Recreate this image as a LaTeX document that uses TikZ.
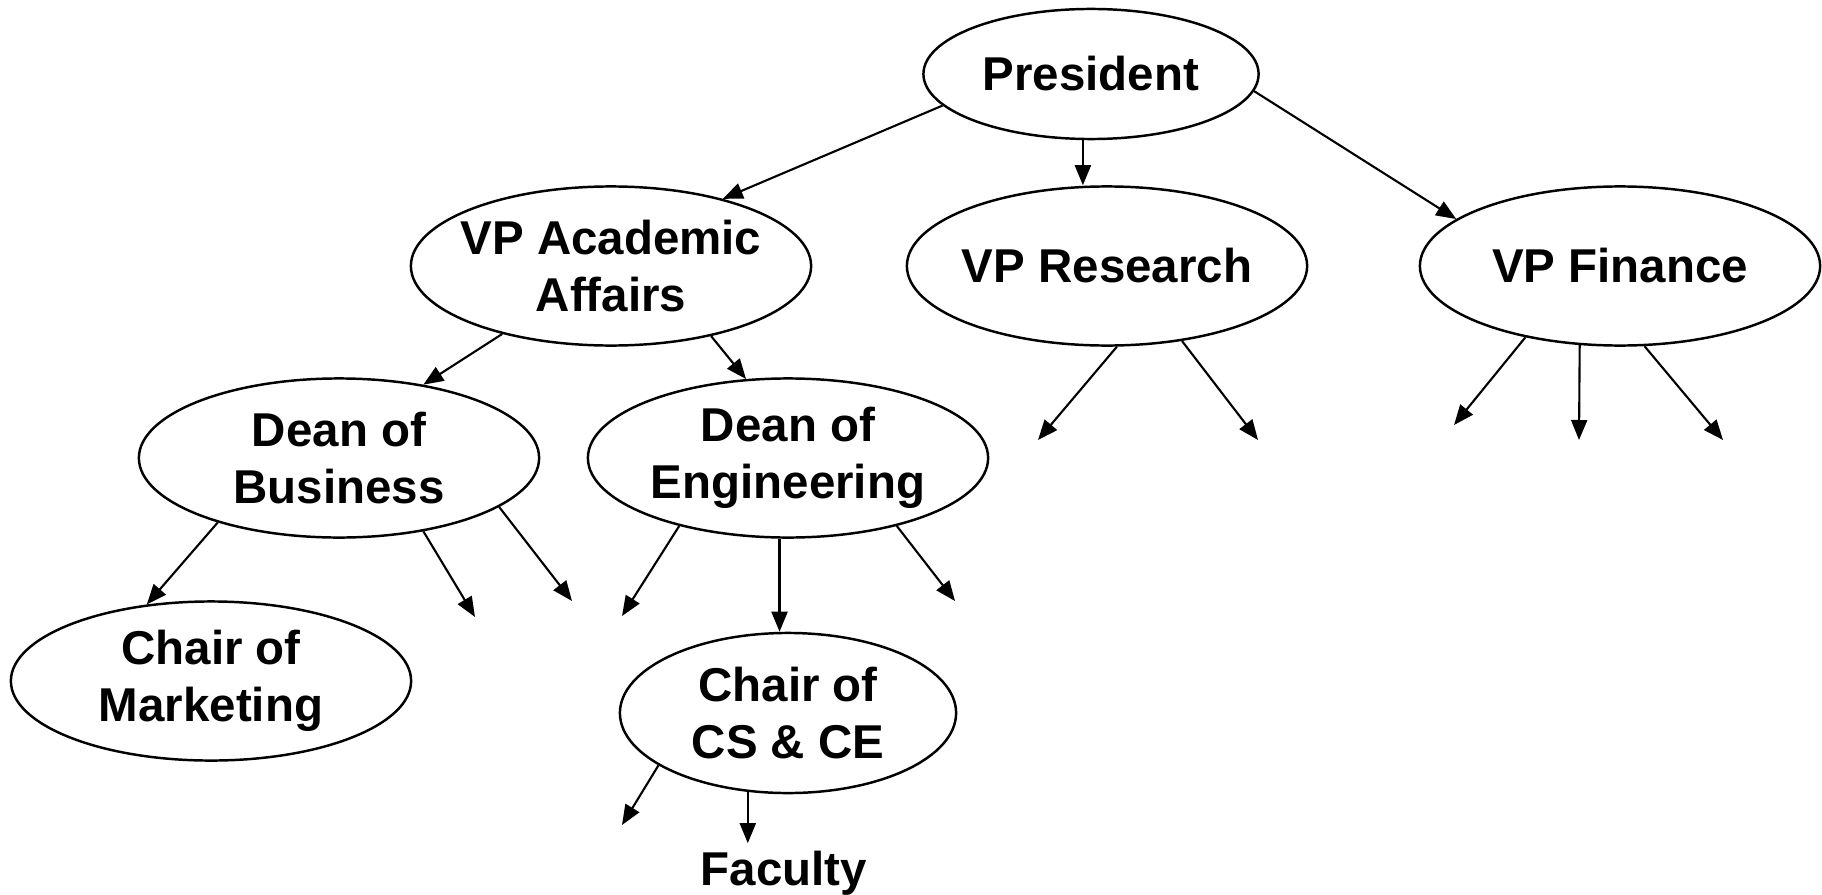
\documentclass[tikz,border=0pt]{standalone}
\usepackage{fontspec}
\setmainfont{Liberation Sans}
\usetikzlibrary{shapes.geometric}
\usetikzlibrary{arrows.meta}

\begin{document}
\begin{tikzpicture}
	    [office/.style={ellipse, draw, line width=0.7pt, minimum width=4cm, minimum height=1.59cm, inner sep=-4pt, align=center},
	    x=0.01cm, y=-0.01cm, >={Triangle[length=2mm, width=1.6mm]},
	    font=\fontsize{13.5}{16.2}\selectfont\bfseries]
	     \useasboundingbox (0, 0) rectangle (1822, 894);
	     \node[office, minimum width=3.35cm, minimum height=1.3cm] (P) at (1091, 74) {President};
	     \node[office] (V1) at (611, 266)   {VP Academic\\Affairs};
	     \node[office] (V2) at (1107, 266)  {VP Research};
	     \node[office] (V3) at (1620, 266)  {VP Finance};
	     \node[office] (D1) at (339, 458)   {Dean of\\Business};
	     \node[office] (D2) at (788, 458)   {Dean of\\Engineering};
	     \node[office] (C1) at (211, 681)   {Chair of\\Marketing};
	     \node[office, minimum width=3.36cm, minimum height=1.6cm] (C2) at (788, 713) {Chair of\\CS \& CE};
	     \node[inner sep=2pt] (F1) at (784, 873) {Faculty};
	     % loose ends
	     \coordinate (r1) at (1038, 440);
	     \coordinate (r2) at (1258, 440);
	     \coordinate (f1) at (1454, 425);
	     \coordinate (f2) at (1579, 440);
	     \coordinate (f3) at (1723, 440);
	     \coordinate (b1) at (475, 617);
	     \coordinate (b2) at (572, 601);
	     \coordinate (e1) at (622, 616);
	     \coordinate (e3) at (955, 601);
	     \coordinate (c1) at (622, 825);
	     \draw[->, semithick] (P.192) -- (V1.31);
	     \draw[->, semithick] (P.263) -- (P.263 |- V2.north);
	     \draw[->, semithick] (P.-6) -- (V3.164);
	     \draw[->, semithick] (V1.212) -- (D1.41);
	     \draw[->, semithick] (V1.-35) -- (D2.118);
	     \draw[->, semithick] (V2.-83) -- (r1);
	     \draw[->, semithick] (V2.-45) -- (r2);
	     \draw[->, semithick] (V3.217) -- (f1);
	     \draw[->, semithick] (V3.243) -- (f2);
	     \draw[->, semithick] (V3.-73) -- (f3);
	     \draw[->, semithick] (D1.208) -- (C1.130);
	     \draw[->, semithick] (D1.-41) -- (b1);
	     \draw[->, semithick] (D1.-17) -- (b2);
	     \draw[->, semithick] (D2.212) -- (e1);
	     \draw[->, semithick] (D2.264) -- (D2.264 |- C2.north);
	     \draw[->, semithick] (D2.-32) -- (e3);
	     \draw[->, semithick] (C2.202) -- (c1);
	     \draw[->, semithick] (C2.243) -- (C2.243 |- F1.north);
\end{tikzpicture}
\end{document}
